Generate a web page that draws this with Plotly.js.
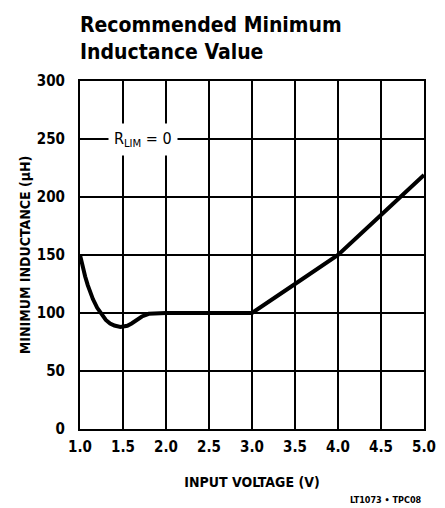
<!DOCTYPE html>
<html>
<head>
<meta charset="utf-8">
<script src="https://cdn.plot.ly/plotly-3.0.1.min.js"></script>
<style>html,body{margin:0;padding:0;background:#fff;}#chart{width:445px;height:508px;}</style>
</head>
<body>
<div id="chart"></div>
<script>
const inputVoltage = [1.0, 1.03, 1.06, 1.09, 1.12, 1.15, 1.2, 1.25, 1.3, 1.35, 1.4, 1.47, 1.55, 1.6, 1.65, 1.72, 1.8, 1.9, 2.0, 2.5, 3.0, 3.5, 4.0, 4.5, 5.0];
const minInductance = [150, 140, 131.5, 124, 117.5, 112, 104.5, 98.5, 94, 91, 89.2, 88, 89, 91, 93.5, 97, 99.3, 100, 100, 100, 100, 125, 150, 184.5, 219];
const xTicks = [1.0, 1.5, 2.0, 2.5, 3.0, 3.5, 4.0, 4.5, 5.0];
const xTickLabels = ['1.0', '1.5', '2.0', '2.5', '3.0', '3.5', '4.0', '4.5', '5.0'];
const yTicks = [0, 50, 100, 150, 200, 250, 300];

const FONT = '"DejaVu Sans Condensed", "Liberation Sans Narrow", "Arial Narrow", sans-serif';

const trace = {
  x: inputVoltage, y: minInductance, type: 'scatter', mode: 'lines',
  line: {color: '#000', width: 4, shape: 'linear'},
  hoverinfo: 'skip'
};

const layout = {
  width: 445, height: 508,
  margin: {l: 80, r: 21, t: 81, b: 79},
  paper_bgcolor: '#fff', plot_bgcolor: '#fff',
  showlegend: false,
  font: {family: FONT, color: '#000'},
  xaxis: {
    range: [1, 5], tickvals: xTicks, ticktext: xTickLabels,
    showgrid: true, gridcolor: '#000', gridwidth: 2,
    showline: true, linecolor: '#000', linewidth: 2, mirror: true,
    zeroline: false, ticks: '', ticklabelstandoff: 3,
    tickfont: {family: FONT, size: 15, weight: 'bold', color: '#000'},
    title: {text: 'INPUT VOLTAGE (V)', font: {family: FONT, size: 14, weight: 'bold', color: '#000'}, standoff: 22}
  },
  yaxis: {
    range: [0, 300], tickvals: yTicks,
    showgrid: true, gridcolor: '#000', gridwidth: 2,
    showline: true, linecolor: '#000', linewidth: 2, mirror: true,
    zeroline: false, ticks: '', ticklabelstandoff: 10,
    tickfont: {family: FONT, size: 15, weight: 'bold', color: '#000'},
    title: {text: 'MINIMUM INDUCTANCE (µH)', font: {family: FONT, size: 14, weight: 'bold', color: '#000'}, standoff: 3}
  },
  annotations: [
    {x: 0, y: 1, xref: 'paper', yref: 'paper', xanchor: 'left', yanchor: 'bottom', align: 'left',
     text: '<b>Recommended Minimum<br>Inductance Value</b>', showarrow: false, yshift: 15, xshift: -2,
     font: {family: FONT, size: 21, color: '#000'}},
    {x: 1.73, y: 250, xref: 'x', yref: 'y', text: 'R<sub>LIM</sub> = 0', showarrow: false,
     font: {family: FONT, size: 16, color: '#000'}, bgcolor: '#fff', borderpad: 5},
    {x: 1, y: 0, xref: 'paper', yref: 'paper', xanchor: 'right', yanchor: 'top',
     text: '<b>LT1073 • TPC08</b>', showarrow: false, yshift: -64, xshift: 0,
     font: {family: FONT, size: 9, color: '#000'}}
  ]
};

Plotly.newPlot('chart', [trace], layout, {staticPlot: true, displayModeBar: false});
</script>
</body>
</html>
